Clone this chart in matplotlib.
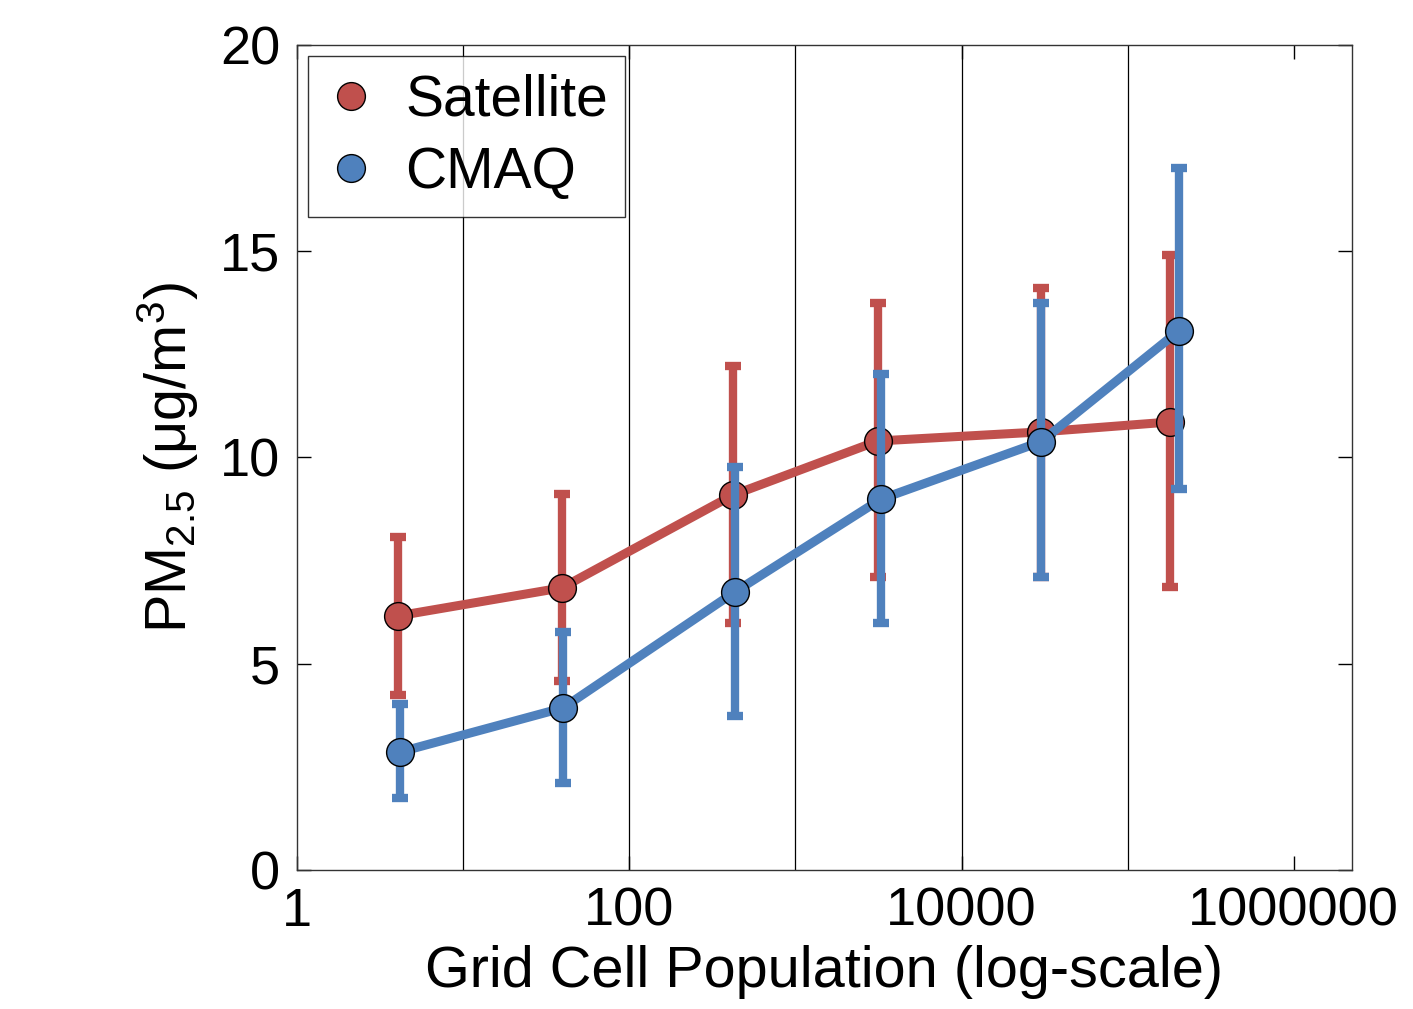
import numpy as np
import matplotlib
matplotlib.use("Agg")
import matplotlib.pyplot as plt

plt.rcParams['font.family'] = ['Liberation Sans', 'DejaVu Sans']
plt.rcParams['mathtext.fontset'] = 'custom'
plt.rcParams['mathtext.rm'] = 'Liberation Sans'
plt.rcParams['mathtext.it'] = 'Liberation Sans'

# --- data ---
sat_pop = [4.05, 39.3, 421, 3135, 30000, 179000]
sat_mean = [6.16, 6.84, 9.09, 10.40, 10.62, 10.86]
sat_hi = [8.07, 9.12, 12.22, 13.75, 14.11, 14.92]
sat_lo = [4.24, 4.58, 5.99, 7.10, 7.10, 6.86]

cmaq_pop = [4.17, 40.0, 432, 3270, 30000, 203000]
cmaq_mean = [2.86, 3.93, 6.74, 8.99, 10.38, 13.07]
cmaq_hi = [4.02, 5.77, 9.77, 12.02, 13.75, 17.02]
cmaq_lo = [1.75, 2.11, 3.73, 5.99, 7.10, 9.23]

grid_x = [10, 100, 1000, 10000, 100000]
xticks = [1, 100, 10000, 1000000]
xtick_labels = ['1', '100', '10000', '1000000']
yticks = [0, 5, 10, 15, 20]

red = '#C0504D'
blue = '#4F81BD'

fig = plt.figure(figsize=(14.13, 10.09), dpi=100)
ax = fig.add_axes([0.2102, 0.1378, 0.7466, 0.8176])

for xv in grid_x:
    ax.axvline(xv, color='black', lw=0.9, zorder=0)

def draw(x, m, lo, hi, c, label, z):
    m = np.array(m)
    yerr = [m - np.array(lo), np.array(hi) - m]
    ax.errorbar(x, m, yerr=yerr, fmt='none', ecolor=c, elinewidth=6,
                capsize=6, capthick=6, zorder=z)
    ax.plot(x, m, '-', color=c, lw=6.5, zorder=z + 0.1)
    ax.plot(x, m, 'o', color=c, mec='black', mew=1.0, ms=20,
            zorder=z + 0.2, label=label)

draw(sat_pop, sat_mean, sat_lo, sat_hi, red, 'Satellite', 2)
draw(cmaq_pop, cmaq_mean, cmaq_lo, cmaq_hi, blue, 'CMAQ', 3)

ax.set_xscale('log')
ax.set_xlim(1, 10 ** 6.35)
ax.set_ylim(0, 20)
ax.set_xticks(xticks)
ax.set_xticklabels(xtick_labels)
ax.xaxis.set_minor_locator(matplotlib.ticker.NullLocator())
ax.set_yticks(yticks)
ax.tick_params(direction='in', length=10, width=1, labelsize=39,
               top=True, right=True, pad=12)

for s in ax.spines.values():
    s.set_linewidth(1.0)
    s.set_color('#333333')

ax.set_xlabel('Grid Cell Population (log-scale)', fontsize=41.5, labelpad=6)
ax.set_ylabel(r'PM$_{2.5}$ (μg/m$^3$)', fontsize=41.5, labelpad=14)

leg = ax.legend(loc='upper left', fontsize=41, frameon=True, fancybox=False,
                edgecolor='black', handlelength=0.9, handletextpad=0.5,
                borderpad=0.3, labelspacing=0.33, borderaxespad=0.2,
                markerscale=1.0)
leg.get_frame().set_linewidth(1.0)

fig.savefig('out.png', dpi=100)
